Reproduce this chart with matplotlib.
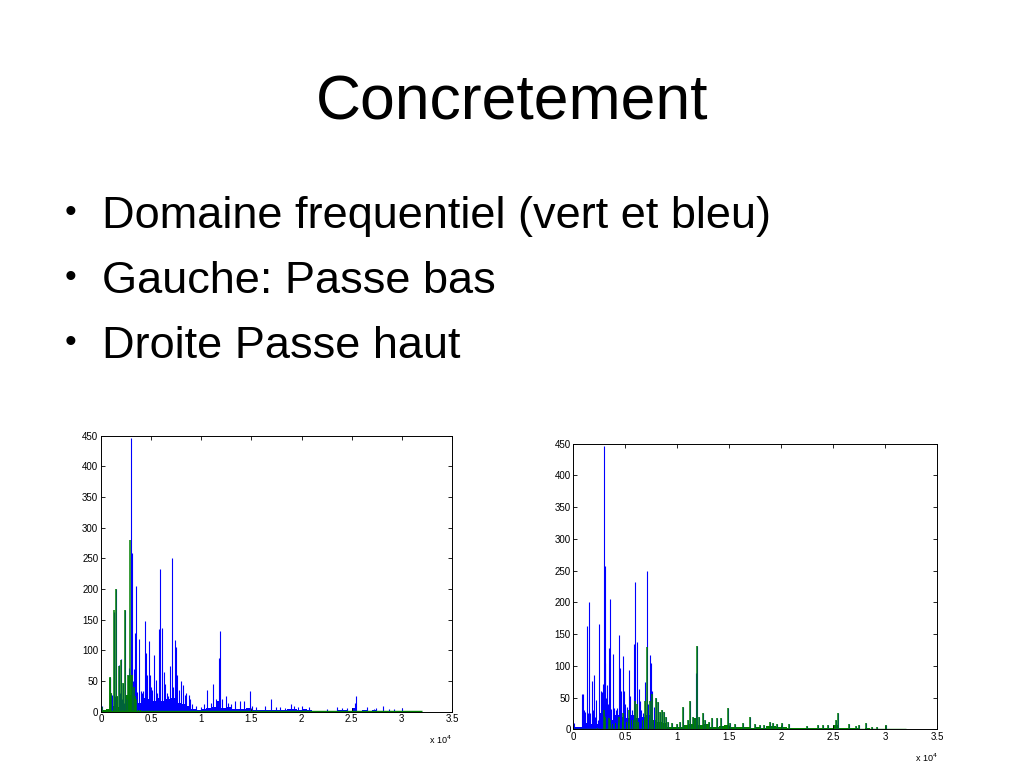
import numpy as np
import matplotlib
matplotlib.use("Agg")
import matplotlib.pyplot as plt

plt.rcParams["font.family"] = ["Liberation Sans", "DejaVu Sans"]

title = "Concretement"
bullets = ["Domaine frequentiel (vert et bleu)",
           "Gauche: Passe bas",
           "Droite Passe haut"]

xtick_vals = [0, 5000, 10000, 15000, 20000, 25000, 30000, 35000]
xtick_labels = ["0", "0.5", "1", "1.5", "2", "2.5", "3", "3.5"]
ytick_vals = [0, 50, 100, 150, 200, 250, 300, 350, 400, 450]

# original spectrum (blue): main peaks, frequency in Hz / magnitude
blue_freq = [60, 870, 950, 1020, 1120, 1280, 1400, 1470, 1560, 1760, 1850,
             1955, 2100, 2210, 2330, 2440, 2560, 2660, 2760, 2820, 2950,
             3000, 3080, 3180, 3270, 3350, 3430, 3530, 3640, 3790, 3950,
             4100, 4200, 4360, 4490, 4600, 4780, 4900, 5000, 5130, 5320,
             5450, 5600, 5810, 5910, 6110, 6280, 6420, 6550, 6700, 6880,
             7040, 7200, 7370, 7450, 7600, 7800, 7950, 8150, 8350, 8500,
             8750, 8900, 9100, 9450, 10000, 10250, 10580, 11000, 11220,
             11500, 11800, 11880, 12100, 12500, 12700, 13000, 13330, 13850,
             14230, 14870, 15100, 15500, 16350, 16990, 17500, 17900, 18300,
             18900, 19200, 19600, 20030, 20740, 22500, 23500, 24000, 24500,
             25300, 25420, 26510, 27200, 27470, 28140, 28700, 29200, 30060]
blue_amp = [10, 56, 55, 30, 28, 162, 25, 200, 25, 76, 30,
            86, 20, 46, 15, 166, 20, 60, 58, 72, 447,
            105, 258, 50, 70, 40, 128, 205, 32, 118, 33,
            30, 33, 148, 96, 60, 116, 60, 40, 35, 93,
            52, 30, 135, 232, 137, 64, 45, 30, 25, 75,
            250, 40, 117, 105, 60, 35, 50, 43, 28, 30,
            28, 20, 12, 10, 8, 12, 35, 15, 45,
            20, 88, 132, 20, 25, 15, 12, 18, 18,
            18, 33, 10, 8, 10, 20, 8, 7, 6,
            12, 10, 8, 10, 8, 5, 7, 6, 6,
            15, 25, 8, 5, 6, 10, 4, 4, 6]

# low-pass output (green, left)
low_freq = [60, 870, 950, 1020, 1280, 1470, 1560, 1760, 1955, 2210, 2440,
            2660, 2760, 2900, 3000, 3080, 3270, 3430, 3530]
low_amp = [8, 57, 55, 30, 165, 200, 25, 75, 85, 46, 166,
           60, 58, 280, 60, 60, 40, 25, 20]

# high-pass output (green, right)
high_freq = [2950, 3080, 3430, 3530, 4360, 4780, 5320, 5910, 6110, 6880,
             7040, 7370, 7600, 7950, 8150, 8350, 8500, 8750, 8900, 9100,
             9450, 10000, 10250, 10580, 11000, 11220, 11500, 11880, 12100,
             12500, 12700, 13000, 13330, 13850, 14230, 14870, 15100, 15500,
             16350, 16990, 17500, 17900, 18300, 18900, 19200, 19600, 20030,
             20740, 22500, 23500, 24000, 24500, 25300, 25420, 26510, 27200,
             27470, 28140, 28700, 29200, 30060]
high_amp = [30, 20, 18, 15, 20, 25, 30, 45, 40, 45,
            130, 45, 55, 50, 43, 28, 30, 28, 20, 12,
            10, 8, 12, 35, 15, 45, 20, 132, 20,
            25, 15, 12, 18, 18, 18, 33, 10, 8,
            10, 20, 8, 7, 6, 12, 10, 8, 10,
            8, 5, 7, 6, 6, 15, 25, 8, 5,
            6, 10, 4, 4, 6]

# noise floor, 500 Hz bins from 0 to 32000 Hz
floor_edges = np.arange(0, 32500, 500)
blue_floor = [3, 4, 10, 8, 8, 25, 25, 15, 22, 20, 18, 22, 18, 20, 22, 15,
              12, 10, 4, 3, 4, 6, 8, 18, 6, 8, 4, 4, 5, 6, 3, 3,
              3, 3, 2, 3, 2, 5, 5, 3, 4, 2, 1.5, 1.5, 1.5, 1.5, 1.5, 2,
              2, 1.5, 6, 1.5, 2, 1.5, 2, 1, 1.5, 1, 1, 1, 1, 1, 1, 1]
low_floor = [3, 4, 10, 8, 8, 28, 15, 3, 1, 1, 1, 1, 1, 1, 1, 1,
             1, 1, 1, 1, 1, 1, 1, 1, 1, 1, 1, 1, 1, 1, 1, 1,
             1, 1, 1, 1, 1, 1, 1, 1, 1, 1, 1, 1, 1, 1, 1, 1,
             1, 1, 1, 1, 1, 1, 1, 1, 1, 1, 1, 1, 1, 1, 1, 1]
high_floor = [1, 1, 1, 1, 2, 10, 12, 8, 10, 12, 12, 14, 12, 15, 18, 14,
              12, 10, 4, 3, 4, 6, 8, 18, 6, 8, 4, 4, 5, 6, 3, 3,
              3, 3, 2, 3, 2, 5, 5, 3, 4, 2, 1.5, 1.5, 1.5, 1.5, 1.5, 2,
              2, 1.5, 6, 1.5, 2, 1.5, 2, 1, 1.5, 1, 1, 1, 1, 1, 1, 1]

BLUE = "#0000ff"
GREEN = "#008000"

fig = plt.figure(figsize=(10.24, 7.68), dpi=100)
fig.patch.set_facecolor("white")

fig.text(0.5, 0.8438, title, fontsize=45, ha="center", va="baseline")
for i, b in enumerate(bullets):
    y = 0.7027 - i * 0.0845
    fig.text(0.0684, y + 0.008, "\u2022", fontsize=24, ha="center", va="baseline")
    fig.text(0.0993, y, b, fontsize=32.5, ha="left", va="baseline")


def draw_panel(ax, g_freq, g_amp, g_floor):
    ax.stairs(blue_floor, floor_edges, fill=True, color=BLUE, lw=0)
    ax.vlines(blue_freq, 0, blue_amp, color=BLUE, lw=0.8)
    ax.stairs(g_floor, floor_edges, fill=True, color=GREEN, lw=0)
    ax.vlines(g_freq, 0, g_amp, color=GREEN, lw=1.1)
    ax.hlines(0.5, 0, 32000, color=GREEN, lw=1)
    ax.set_xlim(0, 35000)
    ax.set_ylim(0, 450)
    ax.set_xticks(xtick_vals)
    ax.set_xticklabels(xtick_labels)
    ax.set_yticks(ytick_vals)
    ax.tick_params(direction="in", top=True, right=True, length=3,
                   width=0.6, labelsize=7, pad=2)
    for s in ax.spines.values():
        s.set_linewidth(0.7)
    ax.text(1.0, -0.1, "x 10$^4$", transform=ax.transAxes, fontsize=6.5,
            ha="right", va="center")


ax1 = fig.add_axes([0.0986, 0.0733, 0.3428, 0.3594])
draw_panel(ax1, low_freq, low_amp, low_floor)

ax2 = fig.add_axes([0.5599, 0.0504, 0.3555, 0.3719])
draw_panel(ax2, high_freq, high_amp, high_floor)

fig.savefig("out.png", dpi=100)
